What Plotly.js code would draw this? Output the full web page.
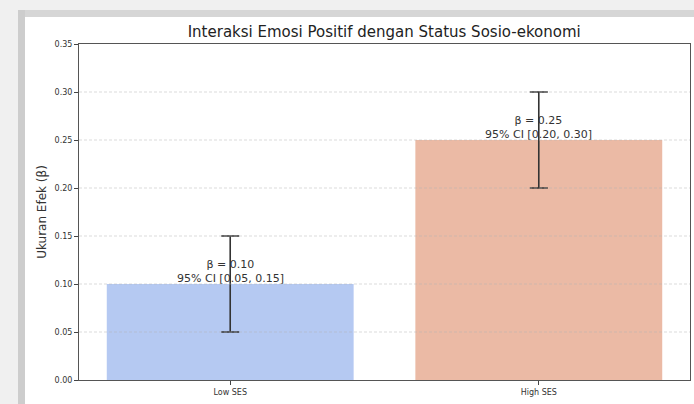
<!DOCTYPE html>
<html>
<head>
<meta charset="utf-8">
<script src="https://cdn.plot.ly/plotly-3.0.1.min.js"></script>
<style>
  html, body { margin:0; padding:0; background:#ffffff; }
  #wrap { position:relative; width:694px; height:404px; overflow:hidden; background:#ffffff; }
  .f { position:absolute; }
  #chart { position:absolute; left:0; top:0; width:694px; height:404px; }
</style>
</head>
<body>
<div id="wrap">
  <div class="f" style="left:0;top:0;width:694px;height:10px;background:#f0f0f0;"></div>
  <div class="f" style="left:0;top:0;width:18px;height:404px;background:#f0f0f0;"></div>
  <div class="f" style="left:18px;top:10px;width:676px;height:7px;background:#d6d6d6;"></div>
  <div class="f" style="left:18px;top:10px;width:7px;height:394px;background:#cdcdcd;"></div>
  <div id="chart"></div>
</div>
<script>
const categories = ["Low SES", "High SES"];
const betaValues = [0.10, 0.25];
const ciLower = [0.05, 0.20];
const ciUpper = [0.15, 0.30];
const barColors = ["#b5c9f2", "#ebbaa5"];
const yTickVals = [0.00, 0.05, 0.10, 0.15, 0.20, 0.25, 0.30, 0.35];

const font = "DejaVu Sans, sans-serif";

const trace = {
  type: "bar",
  x: [0, 1],
  y: betaValues,
  width: 0.8,
  marker: { color: barColors, line: { width: 0 } },
  error_y: {
    type: "data",
    symmetric: false,
    array: betaValues.map((v, i) => ciUpper[i] - v),
    arrayminus: betaValues.map((v, i) => v - ciLower[i]),
    color: "#333333",
    thickness: 1.6,
    width: 9
  },
  hoverinfo: "none"
};

const annotations = categories.map((c, i) => ({
  x: i,
  y: betaValues[i],
  xref: "x",
  yref: "y",
  text: "β = " + betaValues[i].toFixed(2) + "<br>95% CI [" + ciLower[i].toFixed(2) + ", " + ciUpper[i].toFixed(2) + "]",
  showarrow: false,
  yanchor: "bottom",
  xanchor: "center",
  yshift: -3,
  font: { family: font, size: 11, color: "#333333" }
}));

const gridShapes = yTickVals.slice(1, -1).map(v => ({
  type: "line",
  xref: "paper",
  yref: "y",
  x0: 0, x1: 1,
  y0: v, y1: v,
  layer: "above",
  line: { color: "rgba(180,180,180,0.6)", width: 0.8, dash: "3px,2px" }
}));

const layout = {
  width: 694,
  height: 404,
  margin: { l: 79, r: 4, t: 44, b: 24, pad: 0 },
  paper_bgcolor: "rgba(0,0,0,0)",
  plot_bgcolor: "#ffffff",
  showlegend: false,
  title: {
    text: "Interaksi Emosi Positif dengan Status Sosio-ekonomi",
    font: { family: font, size: 15, color: "#222222" },
    x: 0.5536, xanchor: "center",
    y: 0.921, yanchor: "middle"
  },
  xaxis: {
    range: [-0.49, 1.49],
    tickvals: [0, 1],
    ticktext: categories,
    ticks: "outside",
    ticklen: 4,
    tickcolor: "#444444",
    tickfont: { family: font, size: 8, color: "#333333" },
    showgrid: false,
    zeroline: false,
    showline: true,
    linecolor: "#555555",
    linewidth: 1,
    mirror: true,
    fixedrange: true
  },
  yaxis: {
    range: [0, 0.35],
    tickvals: yTickVals,
    tickformat: ".2f",
    ticks: "outside",
    ticklen: 4,
    tickcolor: "#444444",
    tickfont: { family: font, size: 8, color: "#333333" },
    showgrid: false,
    zeroline: false,
    showline: true,
    linecolor: "#555555",
    linewidth: 1,
    mirror: true,
    title: { text: "Ukuran Efek (β)", font: { family: font, size: 12, color: "#333333" }, standoff: 5 },
    fixedrange: true
  },
  annotations: annotations,
  shapes: gridShapes
};

Plotly.newPlot("chart", [trace], layout, { displayModeBar: false, staticPlot: true });
</script>
</body>
</html>
